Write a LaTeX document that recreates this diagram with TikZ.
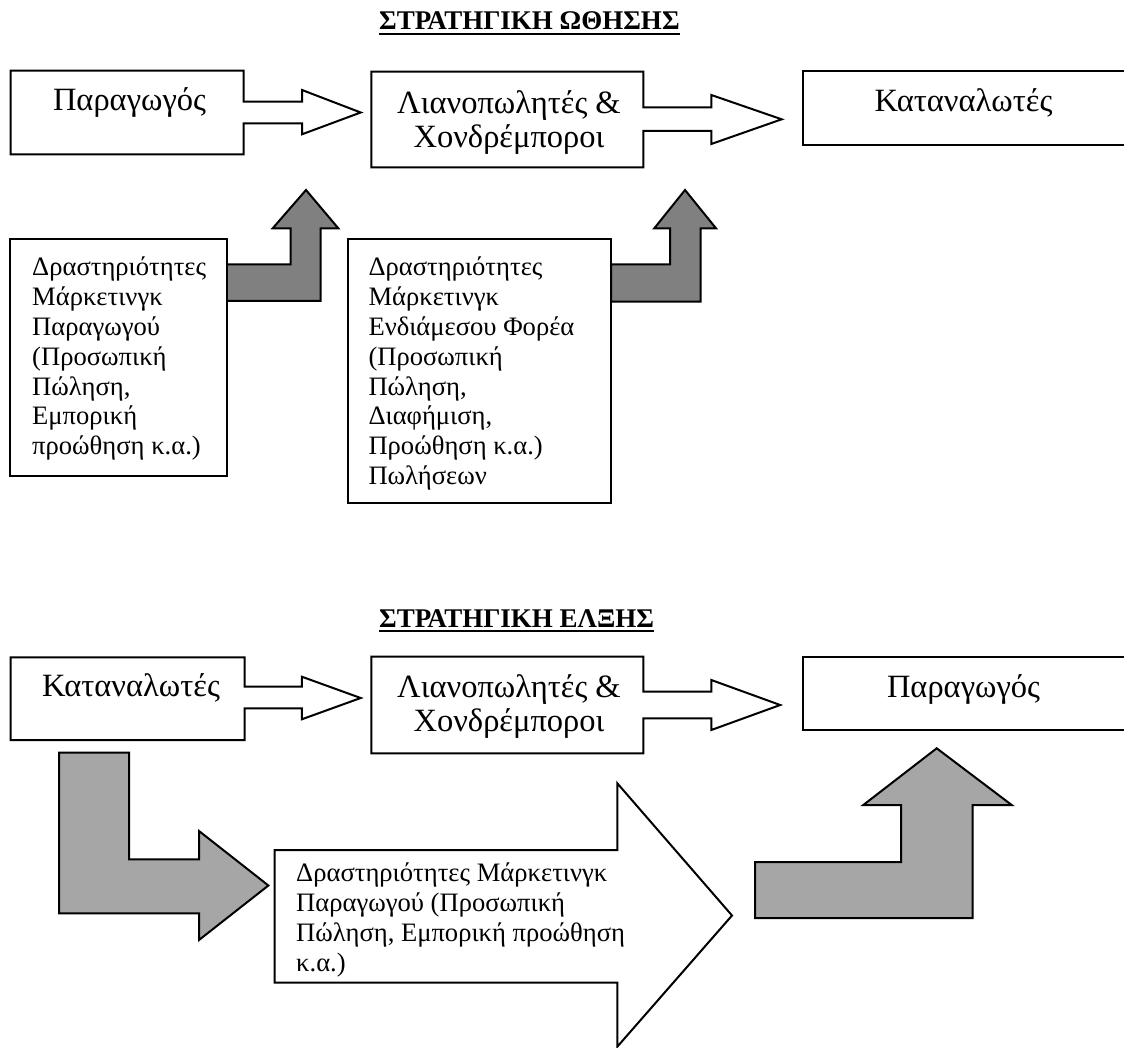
\documentclass[tikz,border=0pt]{standalone}
\usepackage{fontspec}
\setmainfont{Liberation Serif}
\usetikzlibrary{calc}
\definecolor{pushgrey}{HTML}{808080}
\definecolor{pullgrey}{HTML}{A6A6A6}
\begin{document}
\begin{tikzpicture}[x=1pt,y=-1pt,
  outline/.style={draw=black, line width=2pt, line join=miter},
  hollow/.style={outline, fill=white},
  darkarrow/.style={outline, fill=pushgrey},
  lightarrow/.style={outline, fill=pullgrey},
  heading/.style={font=\bfseries\fontsize{27}{31}\selectfont, inner sep=0pt, anchor=base west},
  boxlabel/.style={font=\fontsize{32.5}{34.4}\selectfont, inner sep=0pt, anchor=base},
  notes/.style={font=\fontsize{26.6}{29.8}\selectfont, inner sep=0pt, anchor=base west},
  rulebar/.style={line width=1.8pt}]
\useasboundingbox (0,0) rectangle (1124,1048);

% ---------- push strategy ----------
\node[heading] (pushtitle) at (379,30) {ΣΤΡΑΤΗΓΙΚΗ ΩΘΗΣΗΣ};
\draw[rulebar] ([yshift=-4pt]pushtitle.base west) -- ([yshift=-4pt]pushtitle.base east);

% channel boxes with their arrow callouts
\draw[hollow] (10.7,70.7) -- (243.5,70.7) -- (243.5,101.7) -- (302,101.7) -- (302,90) -- (360.7,112.5)
  -- (302,134.3) -- (302,123.3) -- (243.5,123.3) -- (243.5,154.3) -- (10.7,154.3) -- cycle;
\draw[hollow] (371.4,71.7) -- (643.3,71.7) -- (643.3,107.3) -- (711.3,107.3) -- (711.3,95) -- (781.7,119.3)
  -- (711.3,144) -- (711.3,131) -- (643.3,131) -- (643.3,167.3) -- (371.4,167.3) -- cycle;
\draw[hollow] (802.7,71) rectangle (1130,145);

\node[boxlabel] (pushprod) at (129.5,110.5) {Παραγωγός};
\node[boxlabel] (pushtrade) at (509,113.3) {\begin{tabular}[t]{@{}c@{}}Λιανοπωλητές \&\\Χονδρέμποροι\end{tabular}};
\node[boxlabel] (pushcons) at (963.5,111.5) {Καταναλωτές};

% marketing activity boxes with bent arrows
\draw[darkarrow] (226.7,264.3) -- (290.7,264.3) -- (290.7,228.3) -- (272.7,228.3) -- (306,190) -- (338.3,228.3)
  -- (320.7,228.3) -- (320.7,301) -- (226.7,301) -- cycle;
\draw[hollow] (10,239) rectangle (226.7,476);
\draw[darkarrow] (611,264.3) -- (670,264.3) -- (670,228.3) -- (654.3,228.3) -- (685,190) -- (716,228.3)
  -- (700.5,228.3) -- (700.5,301.7) -- (611,301.7) -- cycle;
\draw[hollow] (347.7,239) rectangle (611,502.5);

\node[notes] (pushprodnote) at (32,276) {\begin{tabular}[t]{@{}l@{}}Δραστηριότητες\\Μάρκετινγκ\\Παραγωγού\\(Προσωπική\\Πώληση,\\Εμπορική\\προώθηση κ.α.)\end{tabular}};
\node[notes] (pushtradenote) at (368.3,276) {\begin{tabular}[t]{@{}l@{}}Δραστηριότητες\\Μάρκετινγκ\\Ενδιάμεσου Φορέα\\(Προσωπική\\Πώληση,\\Διαφήμιση,\\Προώθηση κ.α.)\\Πωλήσεων\end{tabular}};

% ---------- pull strategy ----------
\node[heading] (pulltitle) at (379,627) {ΣΤΡΑΤΗΓΙΚΗ ΕΛΞΗΣ};
\draw[rulebar] ([yshift=-4pt]pulltitle.base west) -- ([yshift=-4pt]pulltitle.base east);

\draw[hollow] (10.7,657.3) -- (244.6,657.3) -- (244.6,686.7) -- (301.8,686.7) -- (301.8,676.7) -- (360.7,698)
  -- (301.8,719.3) -- (301.8,708.3) -- (244.6,708.3) -- (244.6,740) -- (10.7,740) -- cycle;
\draw[hollow] (371.4,656.7) -- (643.3,656.7) -- (643.3,691.7) -- (711.3,691.7) -- (711.3,680) -- (780.2,705)
  -- (711.3,730) -- (711.3,718.3) -- (643.3,718.3) -- (643.3,753.3) -- (371.4,753.3) -- cycle;
\draw[hollow] (802.7,656.7) rectangle (1130,730);

\node[boxlabel] (pullcons) at (131,696.7) {Καταναλωτές};
\node[boxlabel] (pulltrade) at (509,697.5) {\begin{tabular}[t]{@{}c@{}}Λιανοπωλητές \&\\Χονδρέμποροι\end{tabular}};
\node[boxlabel] (pullprod) at (963.5,697.5) {Παραγωγός};

% bent arrow, large outlined arrow and rising arrow
\draw[lightarrow] (59,752.7) -- (129,752.7) -- (129,859.3) -- (199,859.3) -- (199,831) -- (268.4,885.5)
  -- (199,940) -- (199,913.3) -- (59,913.3) -- cycle;
\draw[hollow] (274.5,850) -- (617.3,850) -- (617.3,783.3) -- (732,915.5) -- (617.3,1046.7) -- (617.3,982.7)
  -- (274.5,982.7) -- cycle;
\draw[lightarrow] (755,862) -- (901,862) -- (901,805) -- (863.3,805) -- (936.7,748.3) -- (1011.7,805)
  -- (972.7,805) -- (972.7,918) -- (755,918) -- cycle;

\node[notes] (pullnote) at (296,881.7) {\begin{tabular}[t]{@{}l@{}}Δραστηριότητες Μάρκετινγκ\\Παραγωγού (Προσωπική\\Πώληση, Εμπορική προώθηση\\κ.α.)\end{tabular}};
\end{tikzpicture}
\end{document}
